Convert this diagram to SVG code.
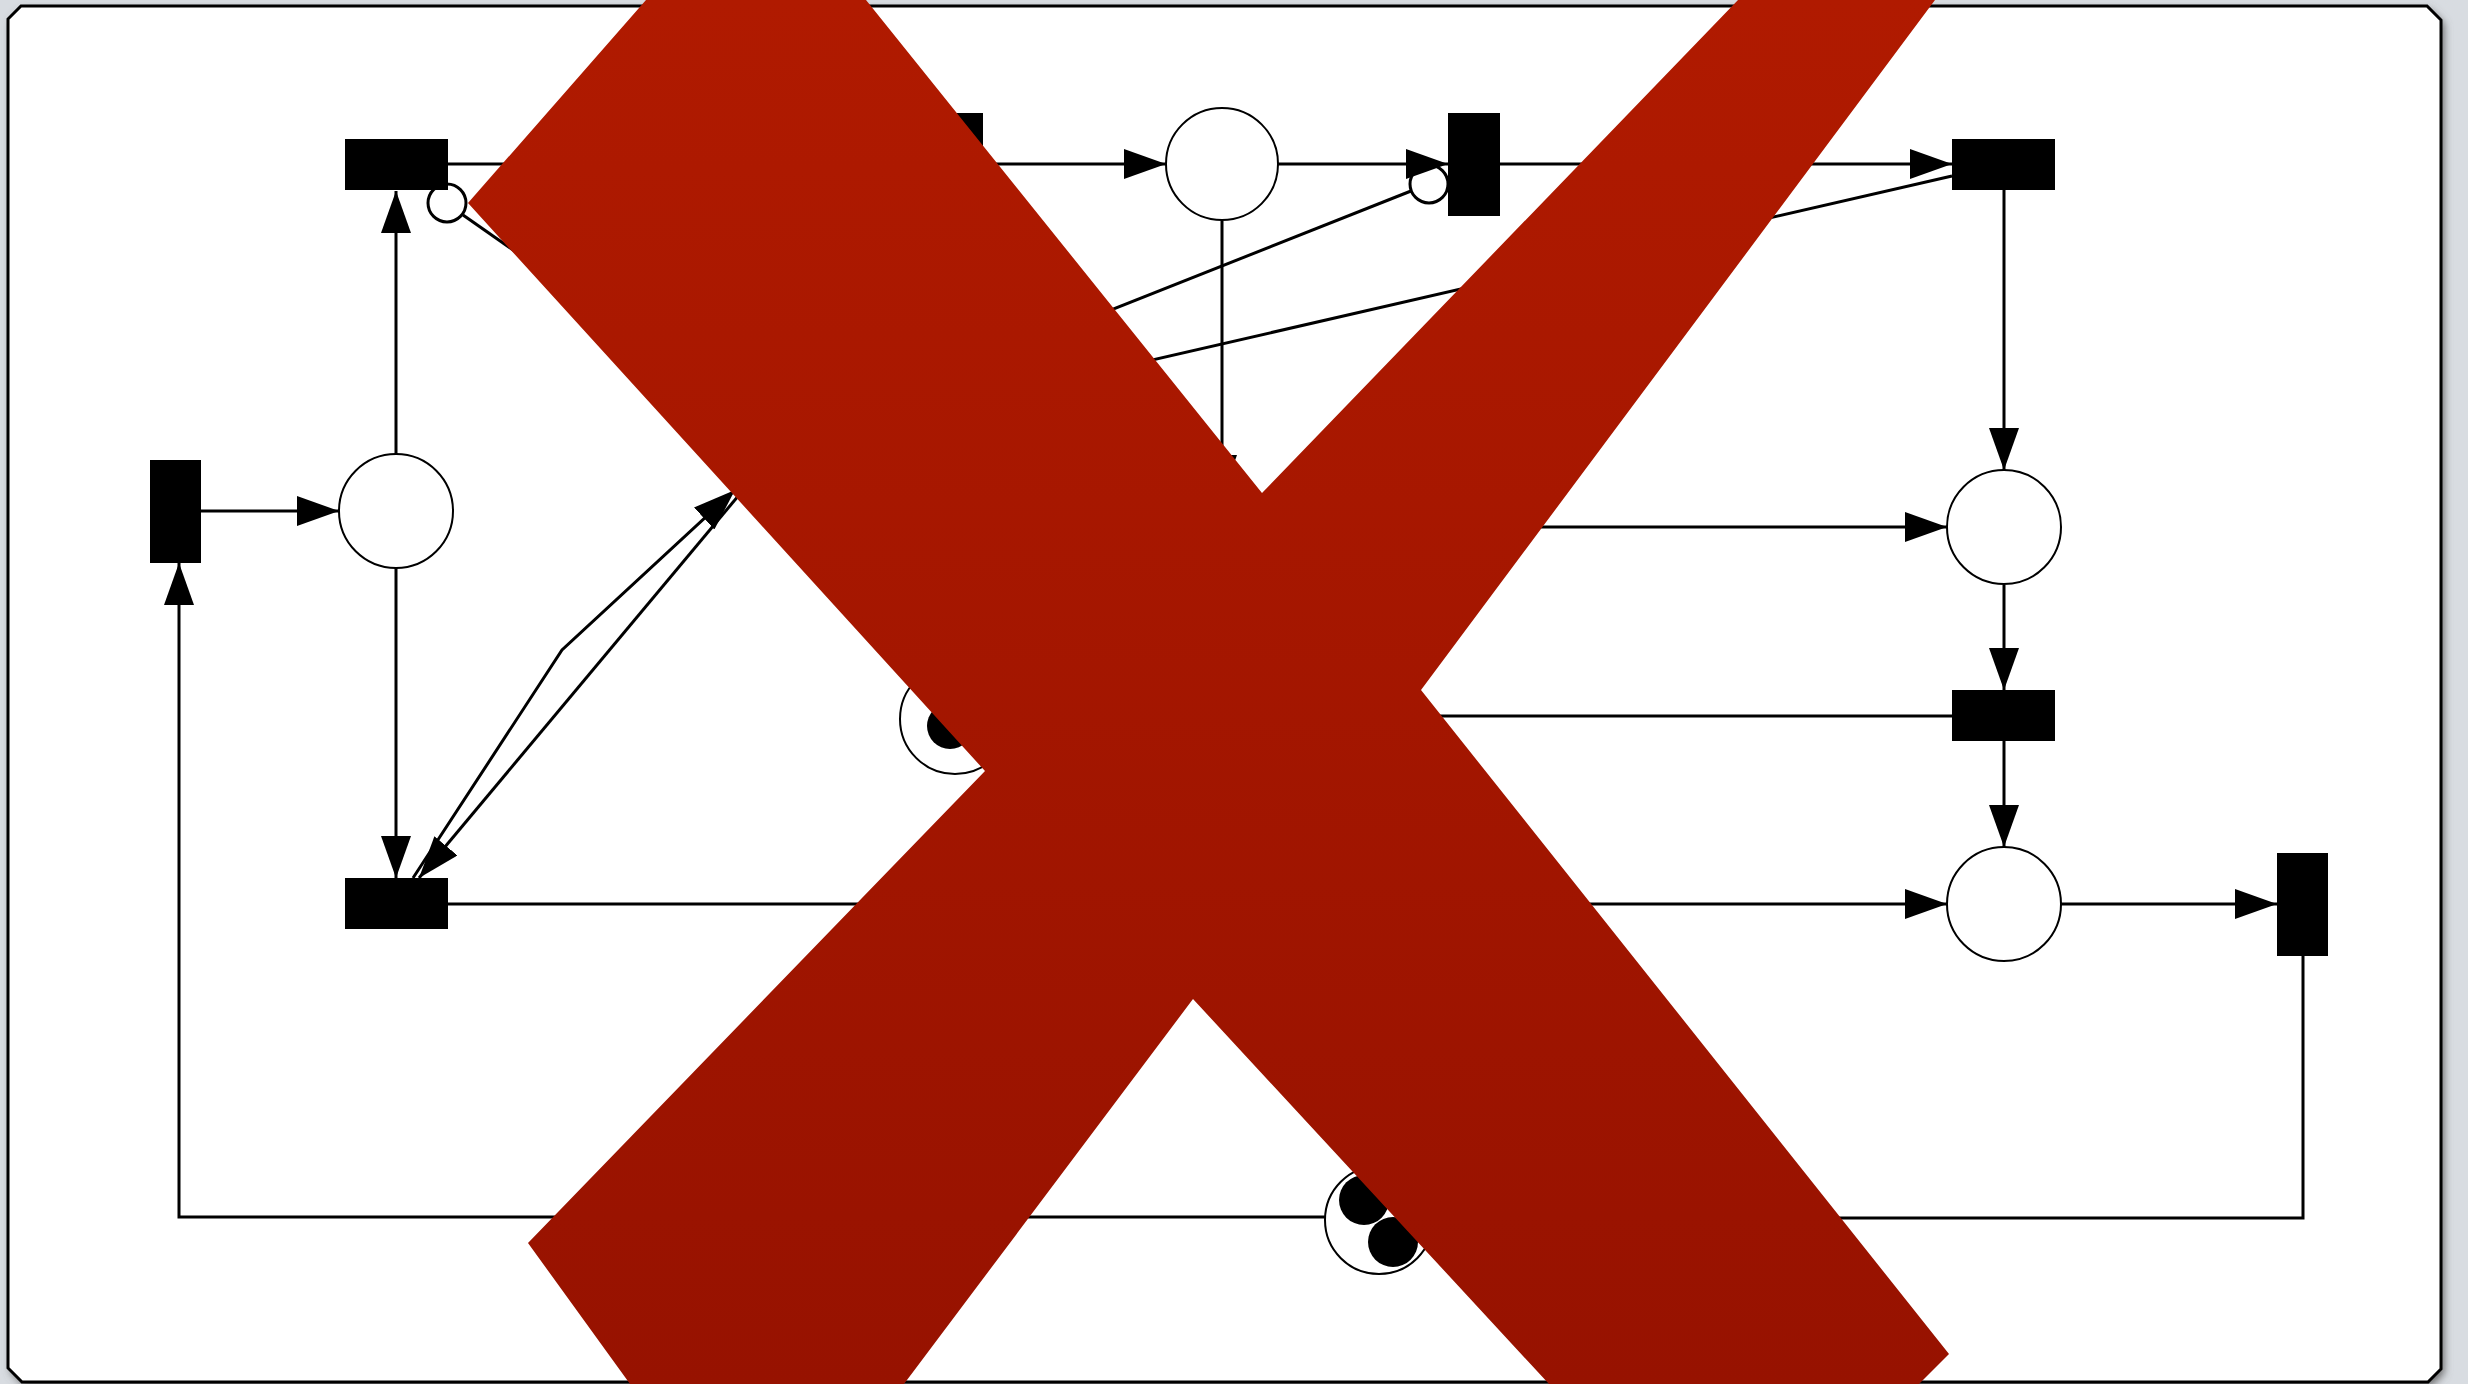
<svg xmlns="http://www.w3.org/2000/svg" width="2468" height="1384" viewBox="0 0 2468 1384">
<defs>
<style>
.place{fill:#fff;stroke:#000;stroke-width:2}
.trans{fill:#000}
.arc{fill:none;stroke:#000;stroke-width:3}
.inh{fill:#fff;stroke:#000;stroke-width:3}
.token{fill:#000}
</style>
<marker id="ah" markerUnits="userSpaceOnUse" viewBox="0 0 42 30" refX="42" refY="15" markerWidth="42" markerHeight="30" orient="auto"><path d="M0,0 L42,15 L0,30 z" fill="#000"/></marker>
<linearGradient id="red" x1="0" y1="0" x2="0" y2="1"><stop offset="0" stop-color="#b01a00"/><stop offset="1" stop-color="#971200"/></linearGradient>
<filter id="blur" x="-5%" y="-5%" width="110%" height="110%"><feGaussianBlur stdDeviation="4"/></filter>
</defs>
<rect width="2468" height="1384" fill="#d8dce1"/>
<g id="frame">
<polygon points="24,10 2430,10 2444,24 2444,1373 2431,1386 25,1386 11,1372 11,23" fill="#666" filter="url(#blur)"/>
<polygon points="21,6 2427,6 2441,20 2441,1369 2428,1382 22,1382 8,1368 8,19" fill="#fff" stroke="#000" stroke-width="3"/>
</g>
<g id="connectors">
<circle class="inh" cx="447" cy="203" r="19"/>
<circle class="inh" cx="1429" cy="184" r="19"/>
<path class="arc" d="M201,511 L339,511" marker-end="url(#ah)"/>
<path class="arc" d="M396,454 L396,191" marker-end="url(#ah)"/>
<path class="arc" d="M396,568 L396,878" marker-end="url(#ah)"/>
<path class="arc" d="M448,164 L640,164"/>
<path class="arc" d="M600,311 L463,215"/>
<path class="arc" d="M983,164 L1166,164" marker-end="url(#ah)"/>
<path class="arc" d="M1278,164 L1448,164" marker-end="url(#ah)"/>
<path class="arc" d="M1000,354 L1411,191"/>
<path class="arc" d="M1500,164 L1952,164" marker-end="url(#ah)"/>
<path class="arc" d="M1952,176 L1000,395"/>
<path class="arc" d="M1222,221 L1222,497" marker-end="url(#ah)"/>
<path class="arc" d="M2004,190 L2004,470" marker-end="url(#ah)"/>
<path class="arc" d="M1400,527 L1947,527" marker-end="url(#ah)"/>
<path class="arc" d="M2004,585 L2004,690" marker-end="url(#ah)"/>
<path class="arc" d="M1952,716 L1300,716"/>
<path class="arc" d="M2004,741 L2004,847" marker-end="url(#ah)"/>
<path class="arc" d="M1450,904 L1947,904" marker-end="url(#ah)"/>
<path class="arc" d="M2061,904 L2277,904" marker-end="url(#ah)"/>
<path class="arc" d="M2303,955 L2303,1218 L1433,1218" marker-end="url(#ah)"/>
<path class="arc" d="M1325,1217 L179,1217 L179,563" marker-end="url(#ah)"/>
<path class="arc" d="M447,904 L950,904"/>
<path class="arc" d="M413,878 L562,650 L735,490" marker-end="url(#ah)"/>
<path class="arc" d="M790,434 L419,878" marker-end="url(#ah)"/>
</g>
<g id="t_left"><rect class="trans" x="150" y="460" width="51" height="103"/></g>
<g id="p_left"><circle class="place" cx="396" cy="511" r="57"/></g>
<g id="t1"><rect class="trans" x="345" y="139" width="103" height="51"/></g>
<g id="t7"><rect class="trans" x="345" y="878" width="103" height="51"/></g>
<g id="t2"><rect class="trans" x="931" y="113" width="52" height="103"/></g>
<g id="p2"><circle class="place" cx="1222" cy="164" r="56"/></g>
<g id="t3"><rect class="trans" x="1448" y="113" width="52" height="103"/></g>
<g id="t4"><rect class="trans" x="1952" y="139" width="103" height="51"/></g>
<g id="p_right1"><circle class="place" cx="2004" cy="527" r="57"/></g>
<g id="t5"><rect class="trans" x="1952" y="690" width="103" height="51"/></g>
<g id="p_right2"><circle class="place" cx="2004" cy="904" r="57"/></g>
<g id="t6"><rect class="trans" x="2277" y="853" width="51" height="103"/></g>
<g id="p_mid"><circle class="place" cx="955" cy="719" r="55"/><circle class="token" cx="950" cy="726" r="23"/></g>
<g id="p_bottom"><circle class="place" cx="1379" cy="1220" r="54"/><circle class="token" cx="1364" cy="1200" r="25"/><circle class="token" cx="1393" cy="1242" r="25"/></g>
<g id="cross"><polygon points="646,0 866,0 1262,493 1738,0 1935,0 1421,690 1949,1354 1919,1384 1549,1384 1193,999 904,1384 630,1384 528,1243 985,771 468,203" fill="url(#red)"/></g>
</svg>
